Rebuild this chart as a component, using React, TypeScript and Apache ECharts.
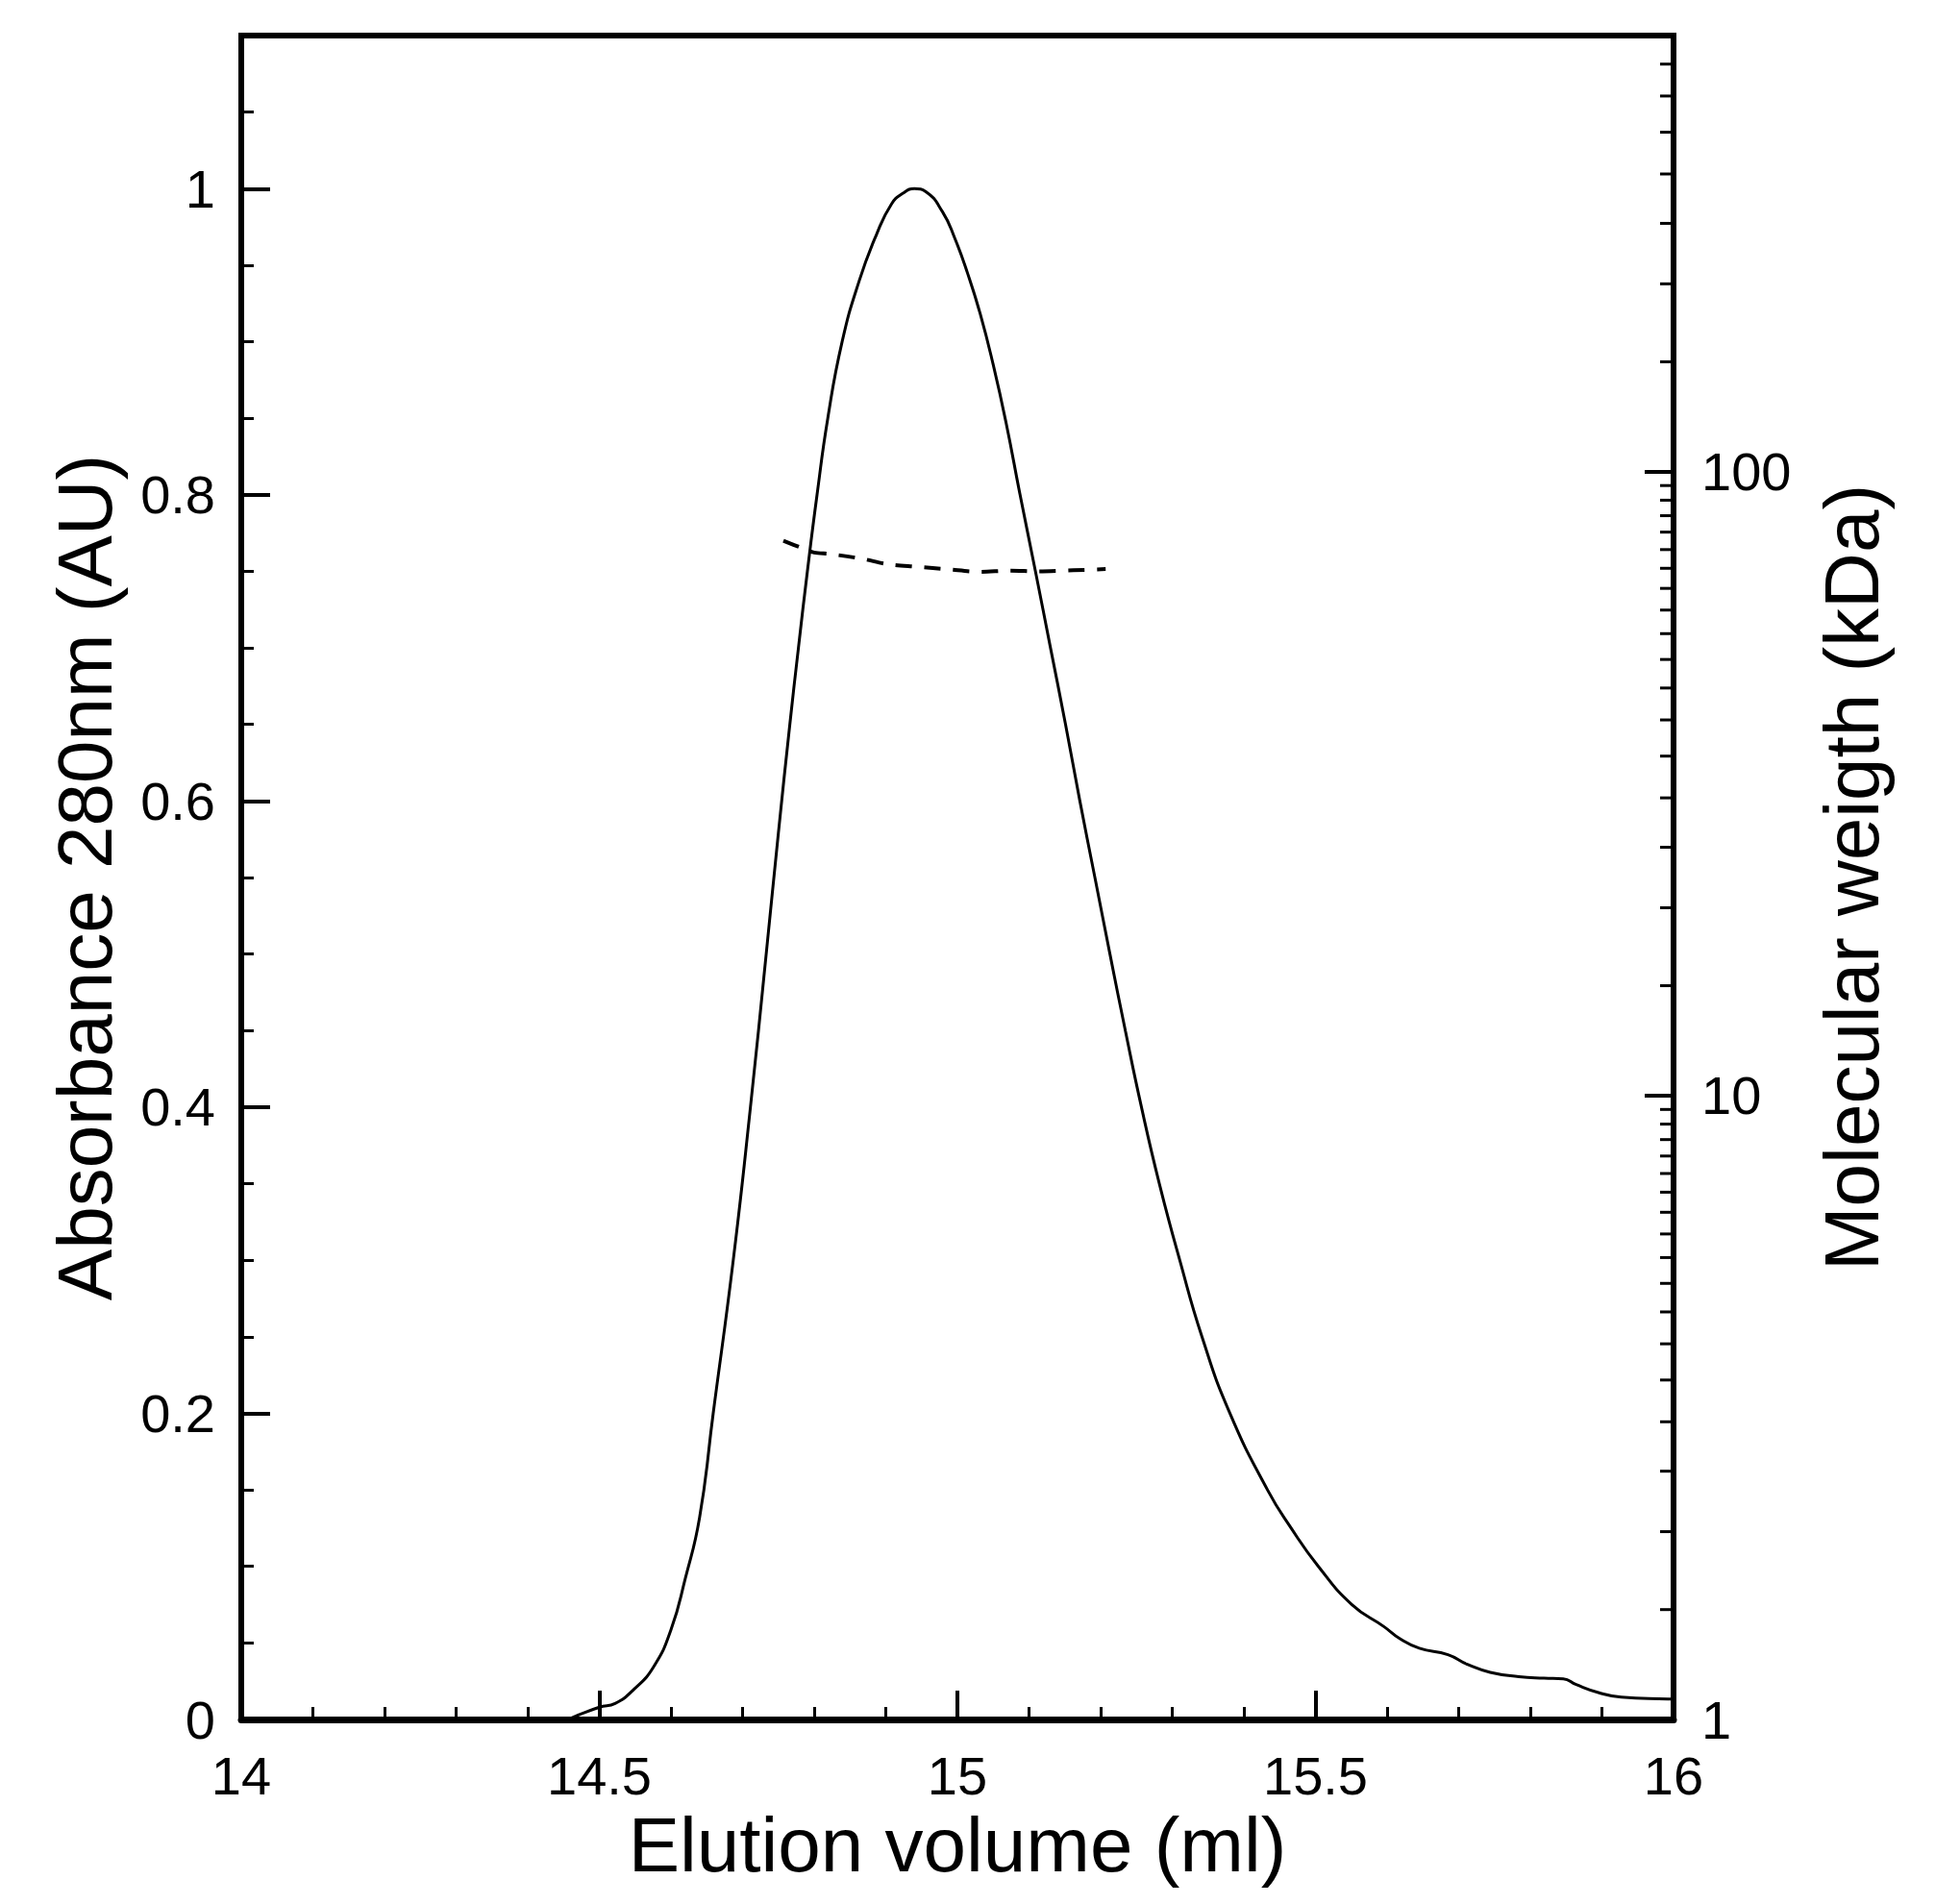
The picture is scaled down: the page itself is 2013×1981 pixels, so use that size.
import React, { useEffect, useRef } from "react";
import * as echarts from "echarts";

// Absorbance trace (solid)
const elutionVolume = [
  14.456, 14.5, 14.522, 14.549, 14.576, 14.6, 14.62, 14.64, 14.659, 14.687,
  14.711, 14.733, 14.75, 14.766, 14.778, 14.7905, 14.804, 14.819, 14.839, 14.863,
  14.887, 14.908, 14.924, 14.94, 14.956, 14.979, 14.996, 15.014, 15.032, 15.05,
  15.068, 15.0875, 15.109, 15.13, 15.151, 15.171, 15.192, 15.213, 15.2345, 15.257,
  15.282, 15.3105, 15.3415, 15.3805, 15.433, 15.466, 15.504, 15.551, 15.596, 15.618,
  15.645, 15.685, 15.712, 15.744, 15.784, 15.819, 15.846, 15.864, 15.895, 15.927,
  15.992, 16.0,
];
const absorbance280 = [
  0, 0.008, 0.0104, 0.02, 0.0345, 0.0585, 0.092, 0.132, 0.2, 0.3,
  0.4, 0.5, 0.579, 0.65, 0.7, 0.75, 0.8, 0.85, 0.9, 0.94,
  0.97, 0.99, 0.997, 1.0, 0.998, 0.985, 0.968, 0.945, 0.918, 0.885,
  0.847, 0.8, 0.75, 0.7, 0.65, 0.6, 0.55, 0.5, 0.45, 0.4,
  0.35, 0.3, 0.25, 0.2, 0.15, 0.125, 0.1, 0.075, 0.0605, 0.0527,
  0.0465, 0.0423, 0.036, 0.0308, 0.028, 0.027, 0.0266, 0.0228, 0.0176, 0.0146,
  0.0134, 0.0133,
];

// Molecular weight trace (dashed, right log axis)
const mwVolume = [
  14.757, 14.782, 14.8, 14.822, 14.867, 14.902, 14.943, 14.988, 15.032, 15.073,
  15.113, 15.162, 15.207,
];
const molecularWeight = [
  77.5, 75.5, 74.2, 73.8, 72.5, 71.1, 70.4, 69.7, 69.1, 69.4, 69.2, 69.5, 69.8,
];

// Right axis minor tick values (log axis)
const rightMinorTicks = [
  1.5, 2, 2.5, 3, 3.5, 4, 4.5, 5, 5.5, 6, 6.5, 7, 7.5, 8, 8.5, 9, 9.5,
  15, 20, 25, 30, 35, 40, 45, 50, 55, 60, 65, 70, 75, 80, 85, 90, 95,
  150, 200, 250, 300, 350, 400, 450,
];

const X_MIN = 14;
const X_MAX = 16;
const Y_MAX = 1.1;
const MW_MIN = 1;
const MW_MAX = 500;

const FONT = "'Liberation Sans', Arial, Helvetica, sans-serif";

export default function App() {
  const ref = useRef<HTMLDivElement>(null);

  useEffect(() => {
    if (!ref.current) return;
    const chart = echarts.init(ref.current, undefined, { renderer: "svg" });

    const lineData = elutionVolume.map((x, i) => [x, absorbance280[i]]);
    const mwData = mwVolume.map((x, i) => [x, molecularWeight[i]]);
    const tickData = rightMinorTicks.map((v) => [X_MAX, v]);

    const option: any = {
      animation: false,
      backgroundColor: "#fff",
      textStyle: { fontFamily: FONT, color: "#000" },
      grid: {
        left: 251,
        top: 37,
        right: 272,
        bottom: 192,
        show: true,
        borderColor: "#000",
        borderWidth: 6,
        backgroundColor: "transparent",
      },
      xAxis: [
        {
          type: "value",
          min: X_MIN,
          max: X_MAX,
          interval: 0.5,
          position: "bottom",
          name: "Elution volume (ml)",
          nameLocation: "middle",
          nameGap: 78,
          nameTextStyle: { fontSize: 80, color: "#000", fontFamily: FONT },
          axisLine: { show: true, lineStyle: { color: "#000", width: 7 } },
          axisTick: { show: true, inside: true, length: 30, lineStyle: { color: "#000", width: 4 } },
          axisLabel: { fontSize: 56, color: "#000", margin: 30, fontFamily: FONT },
          splitLine: { show: false },
        },
        {
          type: "value",
          min: X_MIN,
          max: X_MAX,
          interval: 0.1,
          position: "bottom",
          axisLine: { show: false },
          axisTick: { show: true, inside: true, length: 13, lineStyle: { color: "#000", width: 3 } },
          axisLabel: { show: false },
          splitLine: { show: false },
        },
      ],
      yAxis: [
        {
          type: "value",
          min: 0,
          max: Y_MAX,
          interval: 0.2,
          position: "left",
          name: "Absorbance 280nm (AU)",
          nameLocation: "middle",
          nameRotate: 90,
          nameGap: 123,
          nameTextStyle: { fontSize: 80, color: "#000", fontFamily: FONT },
          axisLine: { show: true, lineStyle: { color: "#000", width: 6 } },
          axisTick: { show: true, inside: true, length: 30, lineStyle: { color: "#000", width: 4 } },
          axisLabel: {
            fontSize: 56,
            color: "#000",
            margin: 27,
            fontFamily: FONT,
            formatter: (v: number) =>
              Math.abs(v * 5 - Math.round(v * 5)) < 1e-6 ? String(Math.round(v * 5) / 5) : "",
          },
          splitLine: { show: false },
        },
        {
          type: "value",
          min: 0,
          max: Y_MAX,
          interval: 0.05,
          position: "left",
          axisLine: { show: false },
          axisTick: { show: true, inside: true, length: 13, lineStyle: { color: "#000", width: 3 } },
          axisLabel: { show: false },
          splitLine: { show: false },
        },
        {
          type: "log",
          logBase: 10,
          min: MW_MIN,
          max: MW_MAX,
          position: "right",
          name: "Molecular weigth (kDa)",
          nameLocation: "middle",
          nameRotate: 90,
          nameGap: 145,
          nameTextStyle: { fontSize: 80, color: "#000", fontFamily: FONT },
          axisLine: { show: true, lineStyle: { color: "#000", width: 6 } },
          axisTick: { show: true, inside: true, length: 30, lineStyle: { color: "#000", width: 4 } },
          axisLabel: {
            fontSize: 56,
            color: "#000",
            margin: 29,
            fontFamily: FONT,
            showMaxLabel: false,
            formatter: (v: number) => (v >= 499 ? "" : String(v)),
          },
          splitLine: { show: false },
        },
      ],
      series: [
        {
          type: "line",
          xAxisIndex: 0,
          yAxisIndex: 0,
          data: lineData,
          showSymbol: false,
          symbol: "none",
          smooth: 0.5,
          lineStyle: { color: "#000", width: 3 },
          z: 5,
        },
        {
          type: "line",
          xAxisIndex: 0,
          yAxisIndex: 2,
          data: mwData,
          showSymbol: false,
          symbol: "none",
          smooth: 0.3,
          lineStyle: { color: "#000", width: 4, type: [17, 13] },
          z: 5,
        },
        {
          type: "custom",
          xAxisIndex: 0,
          yAxisIndex: 2,
          data: tickData,
          clip: false,
          silent: true,
          z: 6,
          renderItem: (params: any, api: any) => {
            const p = api.coord([api.value(0), api.value(1)]);
            return {
              type: "line",
              shape: { x1: p[0], y1: p[1], x2: p[0] - 14, y2: p[1] },
              style: { stroke: "#000", lineWidth: 3 },
            };
          },
        },
      ],
    };

    chart.setOption(option);
    return () => chart.dispose();
  }, []);

  return (
    <div
      ref={ref}
      style={{ position: "absolute", left: 0, top: 0, width: 2013, height: 1981, background: "#fff" }}
    />
  );
}
